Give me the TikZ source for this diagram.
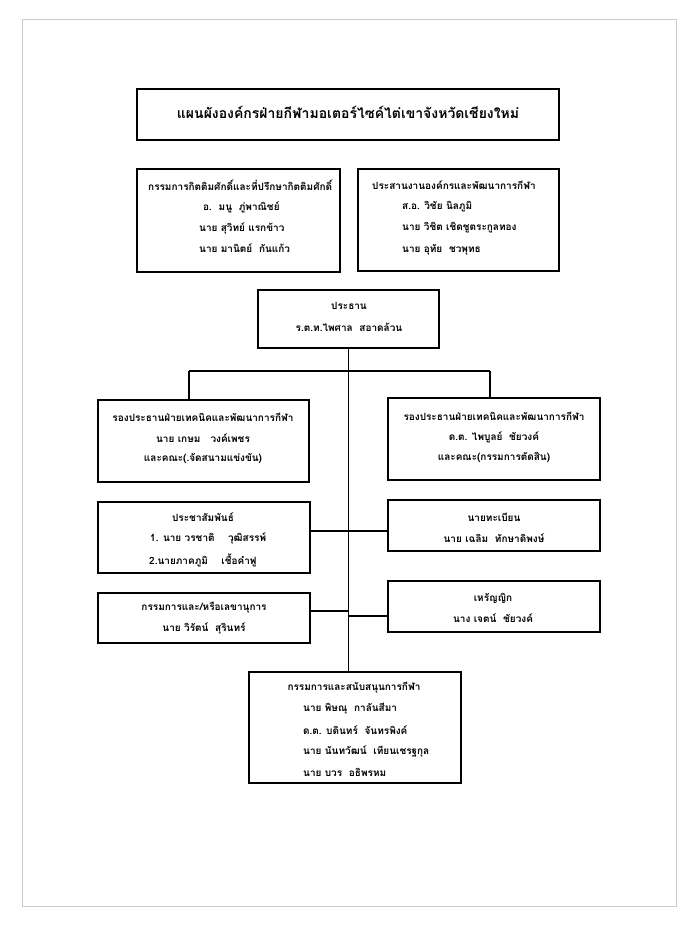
\documentclass[tikz,border=0pt]{standalone}
\usepackage{fontspec}
\newfontfamily\thai[Script=Thai]{Loma}
\begin{document}
\begin{tikzpicture}[x=1pt,y=-1pt,
  box/.style={draw=black,line width=1.8pt,rectangle,inner sep=0pt},
  ln/.style={line width=1.5pt,black},
  tx/.style={inner sep=0pt,font=\thai\bfseries\fontsize{10}{12}\selectfont},
  txl/.style={tx,anchor=west},
  ttl/.style={inner sep=0pt,font=\thai\bfseries\fontsize{14}{16}\selectfont}]
\useasboundingbox (0,0) rectangle (700,928);
\fill[white] (0,0) rectangle (700,928);
\draw[gray!40,line width=1pt] (22,20) rectangle (676,906);
% boxes
\node[box,minimum width=422pt,minimum height=51pt] (title) at (348,114.5) {};
\node[box,minimum width=203pt,minimum height=103pt] (A) at (238.5,220.5) {};
\node[box,minimum width=201pt,minimum height=102pt] (B) at (458.5,220) {};
\node[box,minimum width=181pt,minimum height=58pt] (pres) at (348.5,319) {};
\node[box,minimum width=211pt,minimum height=82pt] (vl) at (203.5,441) {};
\node[box,minimum width=212pt,minimum height=82pt] (vr) at (494,439) {};
\node[box,minimum width=212pt,minimum height=71pt] (pr) at (204,537.5) {};
\node[box,minimum width=212pt,minimum height=51pt] (reg) at (494,525.5) {};
\node[box,minimum width=212pt,minimum height=50pt] (sec) at (204,618) {};
\node[box,minimum width=212pt,minimum height=51pt] (tre) at (494,606.5) {};
\node[box,minimum width=212pt,minimum height=111pt] (bot) at (355,727.5) {};
% connectors
\draw[ln] (pres.south) -- (pres.south |- bot.north);
\coordinate (bl) at (189,371);
\coordinate (br) at (490,371);
\draw[ln] (bl) -- (br);
\draw[ln] (bl) -- (bl |- vl.north);
\draw[ln] (br) -- (br |- vr.north);
\draw[ln] (pr.east |- 0,531) -- (reg.west |- 0,531);
\draw[ln] (sec.east |- 0,611) -- (pres.south |- 0,611);
\draw[ln] (pres.south |- 0,616) -- (tre.west |- 0,616);
% texts
\node[ttl] (t1) at (348,112) {แผนผังองค์กรฝ่ายกีฬามอเตอร์ไซค์ไต่เขาจังหวัดเชียงใหม่};
\node[txl] (a1) at (148,185) {กรรมการกิตติมศักดิ์และที่ปรึกษากิตติมศักดิ์};
\node[txl] (a2) at (203,207) {อ.\ \ มนู\ \ ภู่พาณิชย์};
\node[txl] (a3) at (199,228) {นาย สุวิทย์ แรกข้าว};
\node[txl] (a4) at (199,248) {นาย มานิตย์\ \ กันแก้ว};
\node[txl] (b1) at (372,185) {ประสานงานองค์กรและพัฒนาการกีฬา};
\node[txl] (b2) at (402,207) {ส.อ. วิชัย นิลภูมิ};
\node[txl] (b3) at (402,228) {นาย วิชิต เชิดชูตระกูลทอง};
\node[txl] (b4) at (402,250) {นาย อุทัย\ \ ชวพุทธ};
\node[tx] (p1) at (349,306) {ประธาน};
\node[tx] (p2) at (349,327) {ร.ต.ท.ไพศาล\ \ สอาดล้วน};
\node[tx] (vl1) at (203,417) {รองประธานฝ่ายเทคนิคและพัฒนาการกีฬา};
\node[tx] (vl2) at (203,438) {นาย เกษม\ \ \ วงค์เพชร};
\node[tx] (vl3) at (203,459) {และคณะ(.จัดสนามแข่งขัน)};
\node[tx] (vr1) at (494,416) {รองประธานฝ่ายเทคนิคและพัฒนาการกีฬา};
\node[tx] (vr2) at (494,437) {ด.ต. ไพบูลย์\ \ ชัยวงค์};
\node[tx] (vr3) at (494,457) {และคณะ(กรรมการตัดสิน)};
\node[tx] (pr1) at (203,517) {ประชาสัมพันธ์};
\node[txl] (pr2) at (150,538) {1. นาย วรชาติ\ \ \ \ วุฒิสรรพ์};
\node[txl] (pr3) at (149,560) {2.นายภาคภูมิ\ \ \ \ เชื้อคำฟู};
\node[tx] (rg1) at (494,517) {นายทะเบียน};
\node[tx] (rg2) at (494,538) {นาย เฉลิม\ \ ทักษาดิพงษ์};
\node[tx] (s1) at (204,608) {กรรมการและ/หรือเลขานุการ};
\node[tx] (s2) at (204,628) {นาย วิรัตน์\ \ สุรินทร์};
\node[tx] (tr1) at (493,598) {เหรัญญิก};
\node[tx] (tr2) at (493,618) {นาง เจตน์\ \ ชัยวงค์};
\node[tx] (bt1) at (354,688) {กรรมการและสนับสนุนการกีฬา};
\node[txl] (bt2) at (303,709) {นาย พิษณุ\ \ กาลันสีมา};
\node[txl] (bt3) at (303,730) {ด.ต. บดินทร์\ \ จันทรพิงค์};
\node[txl] (bt4) at (303,751) {นาย นันทวัฒน์\ \ เทียนเชรฐกุล};
\node[txl] (bt5) at (303,772) {นาย บวร\ \ อธิพรหม};
\end{tikzpicture}
\end{document}
